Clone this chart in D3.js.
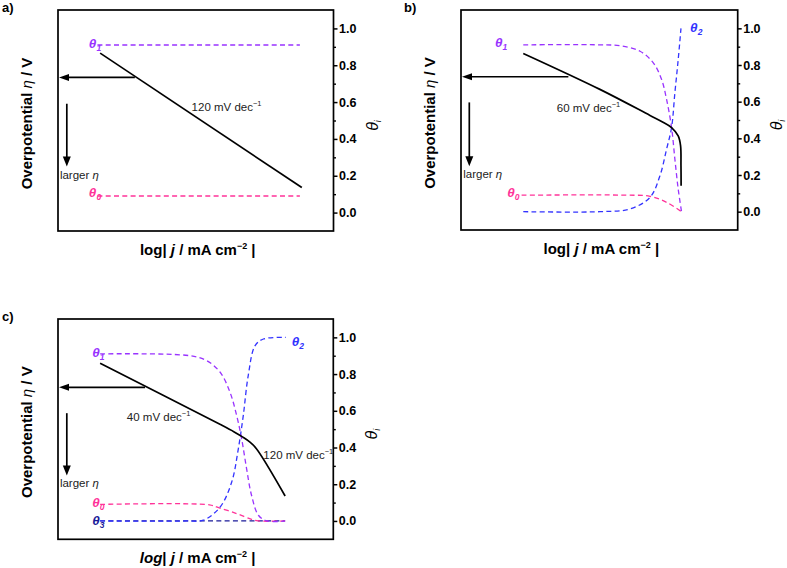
<!DOCTYPE html>
<html><head><meta charset="utf-8">
<script src="https://cdn.jsdelivr.net/npm/d3@7/dist/d3.min.js"></script>
<style>body{margin:0;background:#fff}svg{display:block}text{font-family:"Liberation Sans",Arial,sans-serif}</style>
</head><body><svg id="chart" width="787" height="568"></svg>
<script>
// ---------- data ----------
const xDomain = [0, 10];            // log|j| (arbitrary units)
const thetaDomain = [-0.1, 1.1];
const thetaTicks = [0, 0.2, 0.4, 0.6, 0.8, 1.0];
const thetaMinorTicks = [0.1, 0.3, 0.5, 0.7, 0.9];

// panel a
const aEta    = [[1.53,0.866],[8.85,0.136]];
const aTheta1 = [[1.43,0.91],[8.78,0.91]];
const aTheta0 = [[1.43,0.09],[8.78,0.09]];
// panel b
const bEta    = [[2.25,0.863],[5.02,0.667],[6.83,0.525],[7.3,0.488],[7.61,0.459],[7.85,0.413],[7.935,0.36],[7.95,0.25],[7.955,0.141]];
const bTheta1 = [[2.25,0.91],[5.02,0.91],[5.75,0.905],[6.47,0.875],[6.95,0.812],[7.25,0.721],[7.43,0.612],[7.61,0.459],[7.73,0.286],[7.85,0.123],[7.97,0.0]];
const bTheta2 = [[2.25,0.0],[5.02,0.0],[6.11,0.015],[6.83,0.078],[7.19,0.196],[7.43,0.341],[7.61,0.459],[7.73,0.649],[7.85,0.83],[7.95,1.0]];
const bTheta0 = [[2.19,0.09],[6.0,0.09],[6.83,0.084],[7.43,0.051],[7.97,0.0]];
// panel c
const cEta    = [[1.53,0.859],[5.9,0.525],[6.4,0.485],[6.7,0.458],[6.95,0.432],[7.2,0.395],[8.25,0.136]];
const cTheta1 = [[1.53,0.91],[4.79,0.90],[5.40,0.873],[5.89,0.81],[6.25,0.70],[6.49,0.574],[6.67,0.448],[6.85,0.285],[7.03,0.14],[7.28,0.031],[7.58,0.0],[8.25,0.0]];
const cTheta2 = [[1.53,0.0],[4.68,0.0],[5.28,0.004],[5.89,0.076],[6.31,0.212],[6.55,0.393],[6.73,0.574],[6.91,0.792],[7.16,0.955],[7.46,0.991],[8.27,1.0]];
const cTheta0 = [[1.53,0.09],[5.5,0.088],[5.76,0.076],[6.49,0.04],[7.03,0.009],[7.28,0.0],[8.25,0.0]];
const cTheta3 = [[1.53,0.0],[8.25,0.0]];

const slopeLabels = { a: ["120"], b: ["60"], c: ["40", "120"] };

// ---------- drawing ----------
const svg = d3.select("#chart");
const C = { t1: "#9933ff", t0: "#ff3399", t2: "#3333ff", t3: "#1a1a99", k: "#000" };

const panels = [
  { tag: "a)", tagX: 2, tagY: 12, left: 58, top: 10, w: 275.5, h: 221, italicLog: false,
    series: [
      { d: aTheta1, c: C.t1, dash: true }, { d: aTheta0, c: C.t0, dash: true }, { d: aEta, c: C.k }
    ],
    labels: [ { s: "1", c: C.t1, x: 1.12, v: 0.895 }, { s: "0", c: C.t0, x: 1.12, v: 0.082 } ],
    slopes: [ { t: slopeLabels.a[0], x: 4.85, v: 0.553 } ],
    hArrow: { x0: 2.79, v: 0.734 }, vArrow: { x: 0.32, v0: 0.591, v1: 0.25 }, larger: { x: 0.07, v: 0.183 } },
  { tag: "b)", tagX: 404, tagY: 12, left: 461, top: 10, w: 276.7, h: 220, italicLog: false,
    series: [
      { d: bTheta0, c: C.t0, dash: true }, { d: bTheta2, c: C.t2, dash: true }, { d: bTheta1, c: C.t1, dash: true }, { d: bEta, c: C.k }
    ],
    labels: [ { s: "1", c: C.t1, x: 1.23, v: 0.9 }, { s: "0", c: C.t0, x: 1.67, v: 0.082 }, { s: "2", c: C.t2, x: 8.28, v: 0.982 } ],
    slopes: [ { t: slopeLabels.b[0], x: 3.46, v: 0.543 } ],
    hArrow: { x0: 3.88, v: 0.736 }, vArrow: { x: 0.30, v0: 0.596, v1: 0.248 }, larger: { x: 0.08, v: 0.181 } },
  { tag: "c)", tagX: 2, tagY: 321, left: 58, top: 319, w: 275.3, h: 220.3, italicLog: true,
    series: [
      { d: cTheta3, c: C.t3, dash: true }, { d: cTheta0, c: C.t0, dash: true }, { d: cTheta2, c: C.t2, dash: true }, { d: cTheta1, c: C.t1, dash: true }, { d: cEta, c: C.k }
    ],
    labels: [ { s: "1", c: C.t1, x: 1.24, v: 0.891 }, { s: "0", c: C.t0, x: 1.24, v: 0.076 }, { s: "3", c: C.t3, x: 1.24, v: -0.023 }, { s: "2", c: C.t2, x: 8.49, v: 0.955 } ],
    slopes: [ { t: slopeLabels.c[0], x: 2.50, v: 0.543 }, { t: slopeLabels.c[1], x: 7.46, v: 0.339 } ],
    hArrow: { x0: 3.16, v: 0.728 }, vArrow: { x: 0.32, v0: 0.587, v1: 0.248 }, larger: { x: 0.07, v: 0.185 } }
];

panels.forEach(p => {
  svg.append("text").attr("x", p.tagX).attr("y", p.tagY).attr("font-size", 13).attr("font-weight", "bold").text(p.tag);
  const g = svg.append("g").attr("transform", `translate(${p.left},${p.top})`);
  const x = d3.scaleLinear().domain(xDomain).range([0, p.w]);
  const y = d3.scaleLinear().domain(thetaDomain).range([p.h, 0]);
  const line = d3.line().x(d => x(d[0])).y(d => y(d[1])).curve(d3.curveCatmullRom.alpha(0.5));

  p.series.forEach(s => {
    g.append("path").attr("d", line(s.d)).attr("fill", "none")
      .attr("stroke", s.c).attr("stroke-width", s.dash ? 1.3 : 1.7)
      .attr("stroke-dasharray", s.dash ? "5,3.3" : null);
  });

  // frame
  g.append("rect").attr("width", p.w).attr("height", p.h).attr("fill", "none").attr("stroke", "#000").attr("stroke-width", 1.7);

  // right axis
  const ax = g.append("g").attr("transform", `translate(${p.w},0)`)
    .call(d3.axisRight(y).tickValues(thetaTicks).tickSize(4).tickSizeOuter(0).tickPadding(1.5).tickFormat(d3.format(".1f")));
  ax.select(".domain").remove();
  ax.selectAll("line").attr("stroke-width", 1.5);
  ax.selectAll("text").attr("font-size", 12.5).attr("font-weight", "bold").attr("font-family", '"Liberation Sans",Arial,sans-serif').attr("fill", "#000");
  const mx = g.append("g").attr("transform", `translate(${p.w},0)`)
    .call(d3.axisRight(y).tickValues(thetaMinorTicks).tickSize(2.5).tickSizeOuter(0).tickFormat(""));
  mx.select(".domain").remove();
  mx.selectAll("line").attr("stroke-width", 1.4);

  // theta labels
  p.labels.forEach(l => {
    const t = g.append("text").attr("x", x(l.x)).attr("y", y(l.v)).attr("fill", l.c)
      .attr("font-size", 13.5).attr("font-style", "italic").attr("font-weight", "bold");
    t.append("tspan").text("θ");
    t.append("tspan").attr("font-size", 8.5).attr("dy", 3).text(l.s);
  });

  // slope labels
  p.slopes.forEach(s => {
    const t = g.append("text").attr("x", x(s.x)).attr("y", y(s.v)).attr("font-size", 11.5).attr("fill", "#222");
    t.append("tspan").text(`${s.t} mV dec`);
    t.append("tspan").attr("font-size", 7.5).attr("dy", -5).text("−1");
  });

  // horizontal arrow
  const hy = y(p.hArrow.v), hx0 = x(p.hArrow.x0), tip = x(0) + 1;
  g.append("line").attr("x1", hx0).attr("x2", tip + 8).attr("y1", hy).attr("y2", hy).attr("stroke", "#000").attr("stroke-width", 1.7);
  g.append("path").attr("d", `M${tip},${hy}L${tip + 10},${hy - 3.5}L${tip + 10},${hy + 3.5}Z`).attr("fill", "#000");

  // vertical arrow
  const vx = x(p.vArrow.x), vy0 = y(p.vArrow.v0), vy1 = y(p.vArrow.v1);
  g.append("line").attr("x1", vx).attr("x2", vx).attr("y1", vy0).attr("y2", vy1 - 8).attr("stroke", "#000").attr("stroke-width", 1.7);
  g.append("path").attr("d", `M${vx},${vy1}L${vx - 4},${vy1 - 10}L${vx + 4},${vy1 - 10}Z`).attr("fill", "#000");

  const lt = g.append("text").attr("x", x(p.larger.x)).attr("y", y(p.larger.v)).attr("font-size", 11.5).attr("fill", "#222");
  lt.append("tspan").text("larger ");
  lt.append("tspan").attr("font-style", "italic").text("η");

  // left axis title
  const lty = g.append("text").attr("transform", `translate(-26,${p.h / 2 + 3}) rotate(-90)`)
    .attr("text-anchor", "middle").attr("font-size", 15).attr("font-weight", "bold");
  lty.append("tspan").text("Overpotential ");
  lty.append("tspan").attr("font-style", "italic").attr("font-weight", "normal").text("η");
  lty.append("tspan").text(" / V");

  // right axis title
  const rt = g.append("text").attr("transform", `translate(${p.w + 44},${p.h / 2 + 5}) rotate(-90)`)
    .attr("text-anchor", "middle").attr("font-size", 16).attr("font-style", "italic");
  rt.append("tspan").text("θ");
  rt.append("tspan").attr("font-size", 9).attr("dy", 3).text("i");

  // bottom axis title
  const bt = g.append("text").attr("x", p.w / 2 + 2).attr("y", p.h + 24)
    .attr("text-anchor", "middle").attr("font-size", 15).attr("font-weight", "bold");
  bt.append("tspan").attr("font-style", p.italicLog ? "italic" : null).text("log");
  bt.append("tspan").text("| ");
  bt.append("tspan").attr("font-style", "italic").text("j");
  bt.append("tspan").text(" / mA cm");
  bt.append("tspan").attr("font-size", 9).attr("dy", -6).text("−2");
  bt.append("tspan").attr("dy", 6).text(" |");
});
</script>
</body></html>
